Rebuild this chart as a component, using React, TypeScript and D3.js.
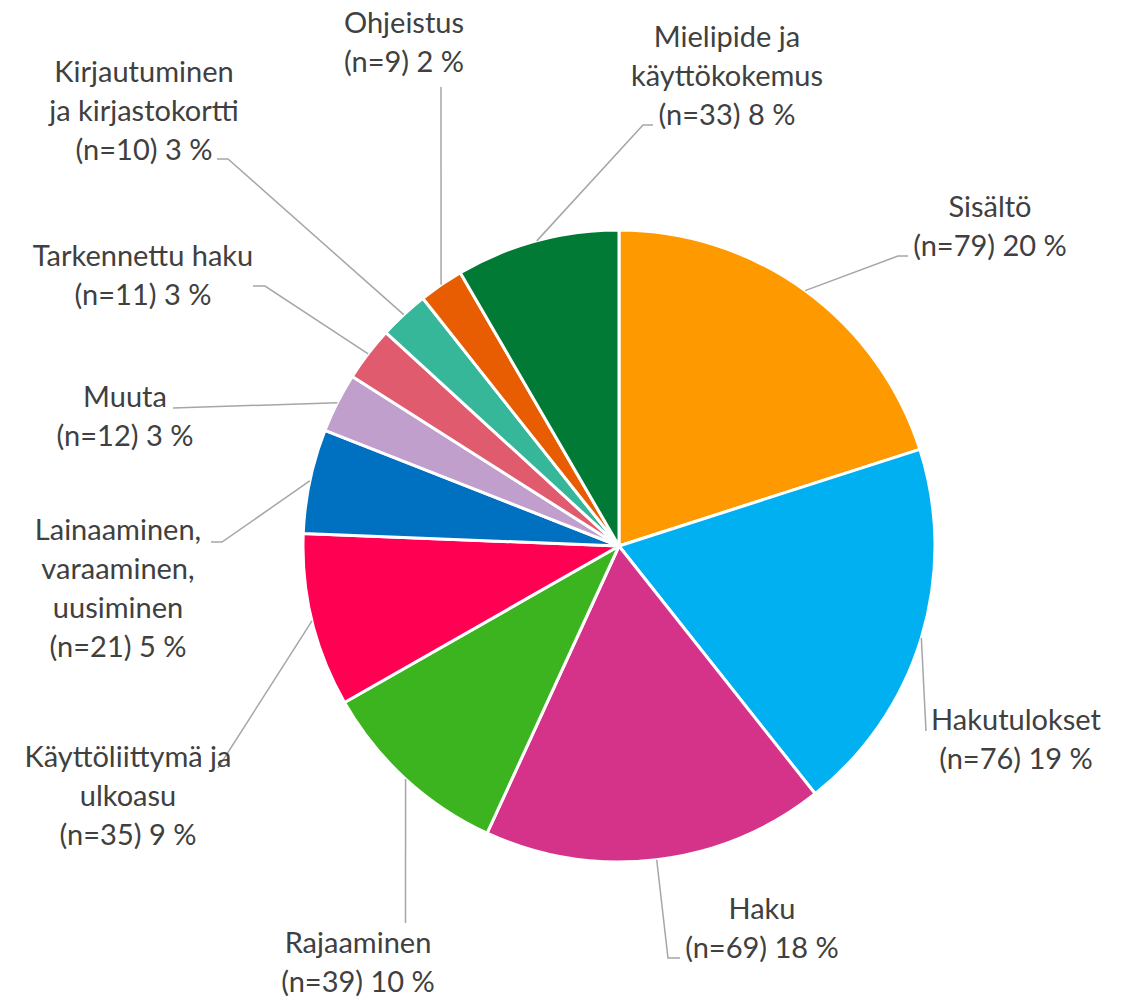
import * as d3 from 'd3'

// slice data, clockwise from 12 o'clock
const categories = [
  'Sisältö',
  'Hakutulokset',
  'Haku',
  'Rajaaminen',
  'Käyttöliittymä ja ulkoasu',
  'Lainaaminen, varaaminen, uusiminen',
  'Muuta',
  'Tarkennettu haku',
  'Kirjautuminen ja kirjastokortti',
  'Ohjeistus',
  'Mielipide ja käyttökokemus',
]
const counts = [79, 76, 69, 39, 35, 21, 12, 11, 10, 9, 33]
const percents = [20, 19, 18, 10, 9, 5, 3, 3, 3, 2, 8]
const colors = [
  '#FF9900', '#00B0F0', '#D5338A', '#3CB41F', '#FF0052', '#0070C0',
  '#C19FCC', '#E05B6D', '#37B799', '#E85D02', '#007A35',
]

// how each label is broken over lines (as in the original)
const labelLines = [
  ['Sisältö'],
  ['Hakutulokset'],
  ['Haku'],
  ['Rajaaminen'],
  ['Käyttöliittymä ja', 'ulkoasu'],
  ['Lainaaminen,', 'varaaminen,', 'uusiminen'],
  ['Muuta'],
  ['Tarkennettu haku'],
  ['Kirjautuminen', 'ja kirjastokortti'],
  ['Ohjeistus'],
  ['Mielipide ja', 'käyttökokemus'],
]

// label placement: centre x, first baseline, leader line bend points
const labelPos: { x: number; y: number; leader: [number, number][] }[] = [
  { x: 990, y: 217, leader: [[898, 256], [908, 256]] },
  { x: 1016, y: 730, leader: [[926, 731]] },
  { x: 762, y: 919, leader: [[668, 958], [680, 958]] },
  { x: 358, y: 953, leader: [[405.5, 923]] },
  { x: 128, y: 767, leader: [[218, 768]] },
  { x: 118, y: 540, leader: [[222, 542], [211, 542]] },
  { x: 125, y: 407, leader: [[173, 408]] },
  { x: 143, y: 266, leader: [[265, 286], [253, 286]] },
  { x: 144, y: 82, leader: [[228, 159], [217, 159]] },
  { x: 404, y: 33, leader: [[441, 87]] },
  { x: 727, y: 47, leader: [[643, 125], [653, 125]] },
]

const width = 1127
const height = 1000
const cx = 619
const cy = 546
const radius = 316
const lineGap = 39

export default function App() {
  const items = categories.map((c, i) => ({ name: c, value: counts[i], i }))
  const pie = d3.pie<{ name: string; value: number; i: number }>()
    .value(d => d.value)
    .sort(null)
    .startAngle(0)
    .endAngle(Math.PI * 2)
  const arcs = pie(items)
  const arc = d3.arc<d3.PieArcDatum<{ name: string; value: number; i: number }>>()
    .innerRadius(0)
    .outerRadius(radius)

  const line = d3.line()

  return (
    <div style={{ position: 'absolute', left: 0, top: 0 }}>
      <svg width={width} height={height} style={{ display: 'block', background: '#fff' }}>
        <g transform={`translate(${cx},${cy})`}>
          {arcs.map(a => (
            <path key={a.data.name} d={arc(a) ?? ''} fill={colors[a.data.i]}
              stroke="#fff" strokeWidth={3} strokeLinejoin="round" />
          ))}
        </g>
        {arcs.map(a => {
          const mid = (a.startAngle + a.endAngle) / 2
          const start: [number, number] = [cx + Math.sin(mid) * radius, cy - Math.cos(mid) * radius]
          const pts = [start, ...labelPos[a.data.i].leader]
          return (
            <path key={'l' + a.data.name} d={line(pts) ?? ''} fill="none"
              stroke="#A6A6A6" strokeWidth={1.5} />
          )
        })}
        {arcs.map(a => {
          const i = a.data.i
          const lines = [...labelLines[i], `(n=${counts[i]}) ${percents[i]} %`]
          return (
            <text key={'t' + a.data.name} x={labelPos[i].x} y={labelPos[i].y}
              textAnchor="middle" fill="#404040"
              style={{ fontFamily: 'Lato, "Open Sans", sans-serif', fontSize: 29 }}>
              {lines.map((t, k) => (
                <tspan key={k} x={labelPos[i].x} y={labelPos[i].y + k * lineGap}>{t}</tspan>
              ))}
            </text>
          )
        })}
      </svg>
    </div>
  )
}
